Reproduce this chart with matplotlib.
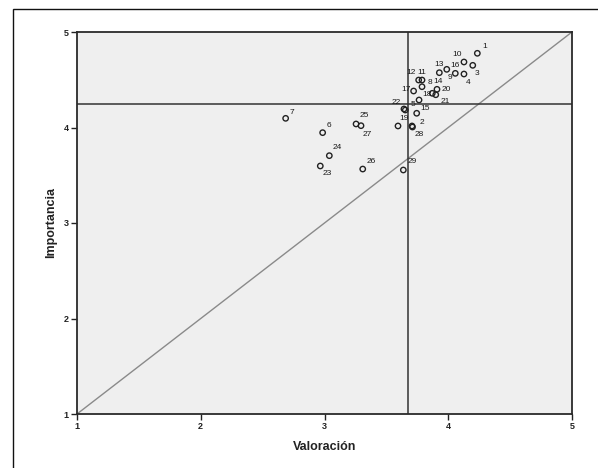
import matplotlib
matplotlib.use("Agg")
import matplotlib.pyplot as plt
from matplotlib.patches import Rectangle

# ---- data ----
ids = [1, 2, 3, 4, 5, 6, 7, 8, 9, 10, 11, 12, 13, 14, 15, 16, 17, 18, 19, 20,
       21, 22, 23, 24, 25, 26, 27, 28, 29]
valoracion = [4.235, 3.707, 4.198, 4.127, 3.653, 2.985, 2.686, 3.788, 3.988, 4.127,
              3.788, 3.761, 3.928, 3.871, 3.745, 4.057, 3.720, 3.764, 3.594, 3.909,
              3.899, 3.642, 2.966, 3.039, 3.255, 3.309, 3.295, 3.711, 3.637]
importancia = [4.777, 4.016, 4.651, 4.560, 4.183, 3.946, 4.096, 4.427, 4.609, 4.686,
               4.497, 4.497, 4.574, 4.358, 4.149, 4.567, 4.382, 4.288, 4.016, 4.400,
               4.343, 4.194, 3.597, 3.705, 4.037, 3.565, 4.019, 4.005, 3.555]
mean_valoracion = 3.675
mean_importancia = 4.246
axis_ticks = [1, 2, 3, 4, 5]

# label offsets in pixels (dx right, dy down) - styling only
label_offsets = {1: (7, -7), 2: (9.5, -3.5), 3: (4, 8), 4: (4, 8), 5: (8, -6),
                 6: (6, -7), 7: (6, -6), 8: (7.5, -4.5), 9: (3.5, 8), 10: (-6.5, -7),
                 11: (-0.5, -7.5), 12: (-7.5, -7.5), 13: (0, -8), 14: (6, -11.5),
                 15: (8.5, -5), 16: (0, -8), 17: (-7.5, -1.5), 18: (7.5, -5.5),
                 19: (6.5, -7.5), 20: (9.5, 0), 21: (9.5, 6.5), 22: (-7.5, -6.5),
                 23: (6.5, 8), 24: (8, -8), 25: (8.5, -8), 26: (8, -8),
                 27: (6.5, 8.5), 28: (6.5, 7.5), 29: (8.5, -8)}

W, H = 598, 468
fig = plt.figure(figsize=(W / 100, H / 100), dpi=100)
fig.patch.set_facecolor("white")

# outer frame (cut at right/bottom like the reference)
fig.add_artist(Rectangle((13 / W, -0.05), 1.1, (H - 9) / H + 0.05,
                         transform=fig.transFigure, fill=False,
                         edgecolor="#111111", linewidth=1.0))

ax = fig.add_axes([77 / W, 1 - 414 / H, (572 - 77) / W, (414 - 32) / H])
ax.set_facecolor("#EFEFEF")
ax.set_xlim(1, 5)
ax.set_ylim(1, 5)

# diagonal y = x
ax.plot([1, 5], [1, 5], color="#8a8a8a", linewidth=1.0, zorder=2)
# mean reference lines
ax.axvline(mean_valoracion, color="#333333", linewidth=1.1, zorder=2)
ax.axhline(mean_importancia, color="#333333", linewidth=1.1, zorder=2)

ax.scatter(valoracion, importancia, s=15, facecolors="none",
           edgecolors="#222222", linewidths=1.0, zorder=3)

lab_font = ["Liberation Sans Narrow", "Liberation Sans", "DejaVu Sans"]
for i, x, y in zip(ids, valoracion, importancia):
    dx, dy = label_offsets[i]
    ax.annotate(str(i), (x, y), xytext=(dx * 0.72, -dy * 0.72),
                textcoords="offset points", ha="center", va="center",
                fontsize=6.0, family=lab_font, color="#1a1a1a", zorder=4)

ax.set_xticks(axis_ticks)
ax.set_yticks(axis_ticks)
ax.set_xticklabels([str(t) for t in axis_ticks])
ax.set_yticklabels([str(t) for t in axis_ticks])
ax.tick_params(direction="out", length=4.5, width=1.0, color="#222222",
               labelsize=6.5, pad=1.5, labelcolor="#222222")
for lbl in ax.get_xticklabels() + ax.get_yticklabels():
    lbl.set_family(["Liberation Sans", "DejaVu Sans"])
    lbl.set_fontweight("bold")
for sp in ax.spines.values():
    sp.set_color("#2a2a2a")
    sp.set_linewidth(1.3)

fig.text(324.5 / W, 1 - 447 / H, "Valoración", ha="center", va="center",
         fontsize=9, fontweight="bold", family=["Liberation Sans", "DejaVu Sans"],
         color="#222222")
fig.text(51 / W, 1 - 223 / H, "Importancia", ha="center", va="center",
         rotation=90, fontsize=9, fontweight="bold",
         family=["Liberation Sans", "DejaVu Sans"], color="#222222")

fig.savefig("out.png", dpi=100)
